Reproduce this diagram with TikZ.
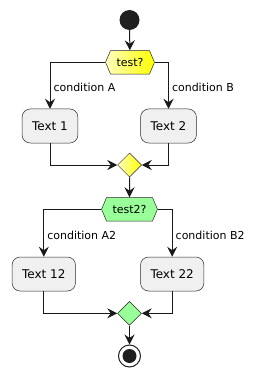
\documentclass[tikz,border=0pt]{standalone}
\usepackage{fontspec}
\setmainfont{DejaVu Sans}
\usetikzlibrary{shapes.geometric,shapes.symbols,arrows.meta}

\tikzset{
    actbox/.style={rectangle, rounded corners=8pt, draw=black!85, fill=black!6,
        line width=0.5pt, minimum height=34pt, inner xsep=10pt,
        font=\fontsize{12}{14}\selectfont},
    testbox/.style={signal, signal to=west and east, signal pointer angle=134,
        draw=black!85, line width=0.5pt, minimum height=23.5pt, inner xsep=6pt,
        font=\fontsize{11}{13}\selectfont},
    mergebox/.style={diamond, draw=black!85, line width=0.5pt,
        minimum size=24pt, inner sep=0pt},
    yellowfill/.style={left color=yellow!25, right color=yellow},
    greenfill/.style={fill=green!40},
    flow/.style={line width=1pt, black!90,
        -{Stealth[length=10pt, width=10pt, inset=3.5pt]}},
    lbl/.style={anchor=west, inner xsep=3pt, black,
        font=\fontsize{11}{13}\selectfont}
}

\begin{document}
\begin{tikzpicture}[x=1pt, y=-1pt]
    \useasboundingbox (0,0) rectangle (259,377);
    % inicio
    \node[circle, fill=black!88, minimum size=20pt, inner sep=0pt] (start) at (129.5,20) {};
    % primera decision
    \node[testbox, yellowfill] (h1) at (130,62.3) {test?};
    \node[actbox] (t1) at (50,126) {Text 1};
    \node[actbox] (t2) at (168.5,126) {Text 2};
    \node[mergebox, yellowfill] (m1) at (129.5,165) {};
    % segunda decision
    \node[testbox, greenfill] (h2) at (129.5,209.3) {test2?};
    \node[actbox] (t12) at (43.8,274) {Text 12};
    \node[actbox] (t22) at (172.2,274) {Text 22};
    \node[mergebox, greenfill] (m2) at (129.5,313.3) {};
    % fin
    \node[circle, draw=black!88, line width=1pt, minimum size=22pt, inner sep=0pt] (stop) at (129.5,356) {};
    \fill[black!88] (stop.center) circle (7);

    \draw[flow] (start) -- (h1);
    \draw[flow] (h1.west) -| node[lbl, pos=0.77] {condition A} (t1);
    \draw[flow] (h1.east) -| node[lbl, pos=0.77] {condition B} (t2);
    \draw[flow] (t1) |- (m1);
    \draw[flow] (t2) |- (m1);
    \draw[flow] (m1) -- (h2);
    \draw[flow] (h2.west) -| node[lbl, pos=0.77] {condition A2} (t12);
    \draw[flow] (h2.east) -| node[lbl, pos=0.77] {condition B2} (t22);
    \draw[flow] (t12) |- (m2);
    \draw[flow] (t22) |- (m2);
    \draw[flow] (m2) -- (stop);
\end{tikzpicture}
\end{document}
